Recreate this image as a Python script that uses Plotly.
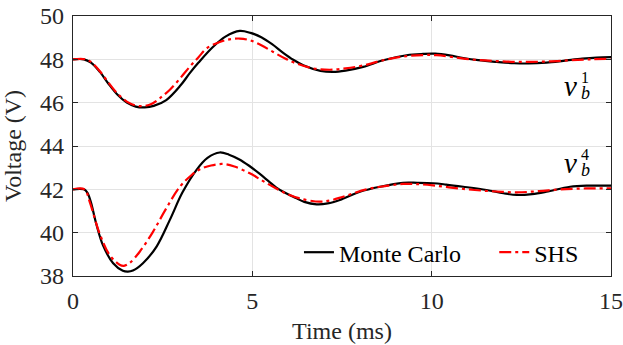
import plotly.graph_objects as go

# Upper bus voltage v_b^1
t_mc1 = [0, 0.3, 0.5, 0.75, 1.0, 1.25, 1.5, 1.75, 2.0, 2.25, 2.6, 3.0, 3.25, 3.5, 3.9, 4.25, 4.65, 4.95, 5.25, 5.55,
         5.86, 6.14, 6.42, 6.9, 7.25, 7.6, 8.09, 8.65, 9.3, 9.76, 10.1, 10.5, 10.88, 11.3, 11.81, 12.3, 12.7, 13.2,
         13.67, 14.2, 14.6, 15.0]
v_mc1 = [48.0, 48.0, 47.85, 47.42, 46.85, 46.35, 46.0, 45.82, 45.78, 45.85, 46.12, 46.8, 47.35, 47.85, 48.57, 49.05,
         49.31, 49.22, 49.02, 48.7, 48.3, 47.98, 47.73, 47.47, 47.42, 47.48, 47.65, 47.96, 48.19, 48.25, 48.26, 48.18,
         48.06, 47.96, 47.88, 47.82, 47.81, 47.85, 47.93, 48.03, 48.08, 48.1]

t_shs1 = [0, 0.35, 0.5, 0.75, 1.0, 1.25, 1.5, 1.75, 1.95, 2.2, 2.42, 2.7, 3.0, 3.25, 3.5, 3.72, 4.09, 4.4, 4.65,
          4.93, 5.25, 5.58, 5.9, 6.23, 6.7, 7.16, 7.6, 8.1, 8.65, 9.3, 9.8, 10.14, 10.6, 11.2, 11.8, 12.5, 13.2,
          13.8, 14.4, 15.0]
v_shs1 = [48.0, 48.0, 47.88, 47.45, 46.9, 46.4, 46.05, 45.87, 45.84, 45.95, 46.2, 46.6, 47.15, 47.65, 48.1, 48.5,
          48.8, 48.93, 48.96, 48.88, 48.65, 48.34, 48.05, 47.81, 47.58, 47.52, 47.58, 47.72, 47.96, 48.15, 48.2,
          48.19, 48.1, 47.98, 47.92, 47.88, 47.9, 47.95, 48.0, 48.02]

# Lower bus voltage v_b^4
t_mc4 = [0, 0.3, 0.4, 0.5, 0.65, 0.84, 1.12, 1.39, 1.53, 1.67, 1.95, 2.33, 2.7, 3.05, 3.44, 3.75, 4.09, 4.35,
         4.64, 4.9, 5.2, 5.45, 5.67, 5.9, 6.14, 6.45, 6.79, 7.1, 7.44, 8.0, 8.56, 9.2, 9.6, 10.04, 10.4, 10.88,
         11.53, 12.0, 12.37, 12.8, 13.2, 13.86, 14.4, 15.0]
v_mc4 = [42.0, 42.0, 41.85, 41.4, 40.4, 39.4, 38.59, 38.24, 38.2, 38.25, 38.59, 39.36, 40.59, 41.85, 42.89, 43.45,
         43.7, 43.6, 43.38, 43.1, 42.72, 42.38, 42.08, 41.85, 41.66, 41.42, 41.31, 41.35, 41.51, 41.89, 42.12, 42.3,
         42.3, 42.28, 42.22, 42.12, 41.97, 41.82, 41.74, 41.78, 41.89, 42.12, 42.17, 42.17]

t_shs4 = [0, 0.32, 0.47, 0.74, 1.02, 1.3, 1.42, 1.58, 1.86, 2.23, 2.6, 2.98, 3.3, 3.53, 3.85, 4.18, 4.5, 4.93,
          5.25, 5.58, 5.95, 6.32, 6.88, 7.2, 7.53, 8.18, 8.7, 9.2, 9.6, 10.04, 10.6, 11.2, 11.8, 12.4, 13.0, 13.6,
          14.3, 15.0]
v_shs4 = [42.0, 42.0, 41.4, 39.97, 38.97, 38.52, 38.47, 38.6, 39.12, 40.04, 41.12, 42.12, 42.65, 42.92, 43.1, 43.17,
          43.05, 42.74, 42.43, 42.12, 41.8, 41.58, 41.43, 41.5, 41.66, 42.0, 42.15, 42.25, 42.24, 42.18, 42.07,
          41.97, 41.9, 41.86, 41.92, 42.0, 42.04, 42.05]

x_ticks = [0, 5, 10, 15]
y_ticks = [38, 40, 42, 44, 46, 48, 50]

FONT = "Liberation Serif, Times New Roman, serif"
black_line = dict(color="#000000", width=2.2, shape="spline")
red_line = dict(color="#ff0000", width=2.2, dash="12px,4px,3px,4px", shape="spline")

fig = go.Figure()
fig.add_trace(go.Scatter(x=t_mc1, y=v_mc1, mode="lines", line=black_line, name="Monte Carlo", legend="legend"))
fig.add_trace(go.Scatter(x=t_shs1, y=v_shs1, mode="lines", line=red_line, name="SHS", legend="legend2"))
fig.add_trace(go.Scatter(x=t_mc4, y=v_mc4, mode="lines", line=black_line, name="Monte Carlo", showlegend=False))
fig.add_trace(go.Scatter(x=t_shs4, y=v_shs4, mode="lines", line=red_line, name="SHS", showlegend=False))

labels = [("1", 46.75, 47.15, 46.45), ("4", 43.23, 43.6, 42.9)]
for sup, yv, ys, yb in labels:
    fig.add_annotation(x=14.08, y=yv, xanchor="right", text="<i>v</i>", showarrow=False, borderpad=0,
                       font=dict(family=FONT, size=29, color="#000"))
    fig.add_annotation(x=14.13, y=ys, xanchor="left", text=sup, showarrow=False, borderpad=0,
                       font=dict(family=FONT, size=16, color="#000"))
    fig.add_annotation(x=14.13, y=yb, xanchor="left", text="<i>b</i>", showarrow=False, borderpad=0,
                       font=dict(family=FONT, size=18, color="#000"))

axis_common = dict(showgrid=True, gridcolor="#e3e3e3", gridwidth=1, showline=True, linecolor="#262626",
                   linewidth=1.2, mirror="ticks", ticks="inside", ticklen=5, tickcolor="#262626",
                   zeroline=False, automargin=False, ticklabelstandoff=3, ticklabeloverflow="allow",
                   tickfont=dict(family=FONT, size=24, color="#262626"))

legend_common = dict(orientation="h", yanchor="middle", y=0.09, bgcolor="rgba(255,255,255,0)",
                     font=dict(family=FONT, size=24, color="#000"), itemwidth=30)

fig.update_layout(
    width=623, height=345,
    margin=dict(l=73, r=12, t=16, b=69, autoexpand=False),
    paper_bgcolor="white", plot_bgcolor="white",
    font=dict(family=FONT, size=24, color="#262626"),
    xaxis=dict(range=[0, 15], tickvals=x_ticks,
               title=dict(text="Time (ms)", font=dict(family=FONT, size=24), standoff=9), **axis_common),
    yaxis=dict(range=[38, 50], tickvals=y_ticks,
               title=dict(text="Voltage (V)", font=dict(family=FONT, size=24), standoff=12), **axis_common),
    legend=dict(x=0.42, xanchor="left", **legend_common),
    legend2=dict(x=0.783, xanchor="left", **legend_common),
    showlegend=True,
)

# remove the default page margin so the figure fills the window exactly
fig.write_html("out.html", config={"displayModeBar": False},
               post_script="document.body.style.margin='0';")
